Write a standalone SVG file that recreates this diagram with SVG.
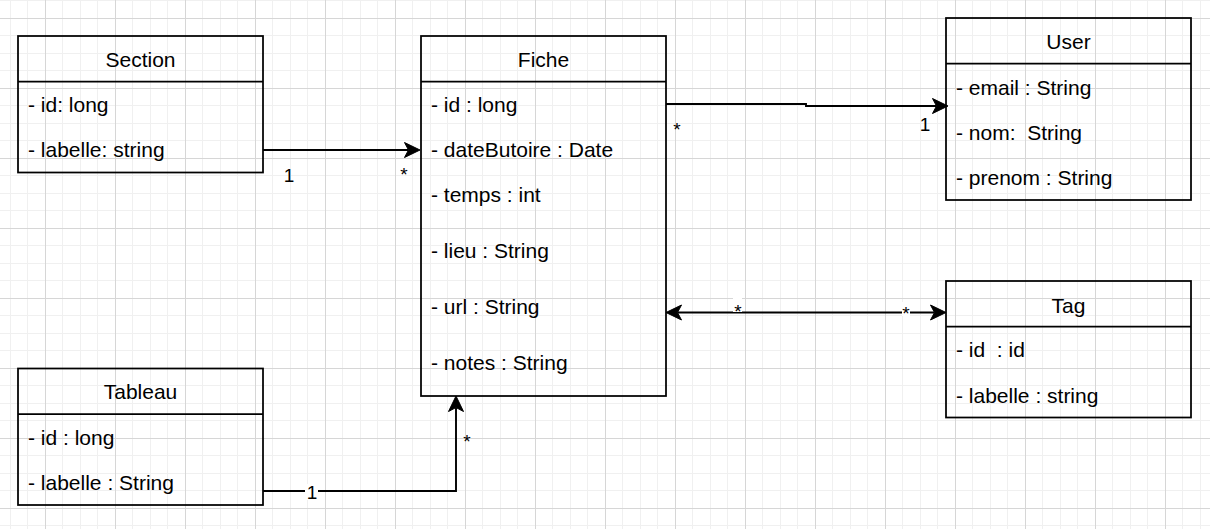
<svg xmlns="http://www.w3.org/2000/svg" width="1210" height="529" viewBox="0 0 1210 529">
<style>
.box{fill:none;stroke:#000;stroke-width:1.75}
.sep{stroke:#000;stroke-width:1.75}
.t{font-family:"Liberation Sans",Arial,sans-serif;font-size:21px;fill:#000;white-space:pre}
.c{text-anchor:middle}
.lbl{font-family:"Liberation Sans",Arial,sans-serif;font-size:19px;fill:#000;text-anchor:middle}
.edge{fill:none;stroke:#000;stroke-width:1.9}
</style>
<defs>
<pattern id="grid" patternUnits="userSpaceOnUse" x="45" y="18" width="70" height="70">
<rect x="17" y="0" width="1" height="70" fill="#f0f0f0"/>
<rect x="35" y="0" width="1" height="70" fill="#f0f0f0"/>
<rect x="52" y="0" width="1" height="70" fill="#f0f0f0"/>
<rect x="0" y="17" width="70" height="1" fill="#f0f0f0"/>
<rect x="0" y="35" width="70" height="1" fill="#f0f0f0"/>
<rect x="0" y="52" width="70" height="1" fill="#f0f0f0"/>
<rect x="0" y="0" width="1" height="70" fill="#d6d6d6"/>
<rect x="0" y="0" width="70" height="1" fill="#d6d6d6"/>
</pattern>
<marker id="arr" markerUnits="userSpaceOnUse" markerWidth="20" markerHeight="20" refX="5" refY="9" orient="auto-start-reverse">
<path d="M1,1.5 L16.5,9 L1,16.5 L5,9 Z" fill="#000" stroke="#000" stroke-width="1" stroke-linejoin="miter"/>
</marker>
</defs>
<rect width="1210" height="529" fill="#fff"/>
<rect width="1210" height="529" fill="url(#grid)"/>

<g id="edges">
<path class="edge" d="M263,150 H408.5" marker-end="url(#arr)"/>
<path class="edge" d="M666,104 H806 V106 H936.5" marker-end="url(#arr)"/>
<path class="edge" d="M677.5,312.5 H934.5" marker-start="url(#arr)" marker-end="url(#arr)"/>
<path class="edge" d="M263,491 H456 V407.5" marker-end="url(#arr)"/>
<text class="lbl" x="289" y="182">1</text>
<text class="lbl" x="404" y="181">*</text>
<text class="lbl" x="677" y="136">*</text>
<text class="lbl" x="925" y="131">1</text>
<rect x="733" y="298" width="9" height="14" fill="#fff"/>
<text class="lbl" x="738" y="318">*</text>
<rect x="902" y="302" width="8" height="14" fill="#fff"/>
<text class="lbl" x="906" y="320">*</text>
<rect x="305" y="484" width="13" height="16" fill="#fff"/>
<text class="lbl" x="312" y="499">1</text>
<text class="lbl" x="467" y="448">*</text>
</g>

<g id="section">
<rect class="box" x="18" y="36" width="245" height="136.5"/>
<line class="sep" x1="18" y1="81.5" x2="263" y2="81.5"/>
<text class="t c" x="140.5" y="67">Section</text>
<text class="t" x="28" y="112">- id: long</text>
<text class="t" x="28" y="157">- labelle: string</text>
</g>

<g id="fiche">
<rect class="box" x="421" y="36" width="245" height="360"/>
<line class="sep" x1="421" y1="81.5" x2="666" y2="81.5"/>
<text class="t c" x="543.5" y="67">Fiche</text>
<text class="t" x="431" y="112">- id : long</text>
<text class="t" x="431" y="157">- dateButoire : Date</text>
<text class="t" x="431" y="202">- temps : int</text>
<text class="t" x="431" y="258">- lieu : String</text>
<text class="t" x="431" y="314">- url : String</text>
<text class="t" x="431" y="370">- notes : String</text>
</g>

<g id="user">
<rect class="box" x="946" y="18" width="245" height="182"/>
<line class="sep" x1="946" y1="63.5" x2="1191" y2="63.5"/>
<text class="t c" x="1068.5" y="49">User</text>
<text class="t" x="956" y="95">- email : String</text>
<text class="t" x="956" y="140">- nom:  String</text>
<text class="t" x="956" y="185">- prenom : String</text>
</g>

<g id="tag">
<rect class="box" x="946" y="281" width="245" height="136.5"/>
<line class="sep" x1="946" y1="326.5" x2="1191" y2="326.5"/>
<text class="t c" x="1068.5" y="313">Tag</text>
<text class="t" x="956" y="357">- id  : id</text>
<text class="t" x="956" y="403">- labelle : string</text>
</g>

<g id="tableau">
<rect class="box" x="18" y="368.5" width="245" height="136.5"/>
<line class="sep" x1="18" y1="414" x2="263" y2="414"/>
<text class="t c" x="140.5" y="399">Tableau</text>
<text class="t" x="28" y="445">- id : long</text>
<text class="t" x="28" y="490">- labelle : String</text>
</g>
</svg>
